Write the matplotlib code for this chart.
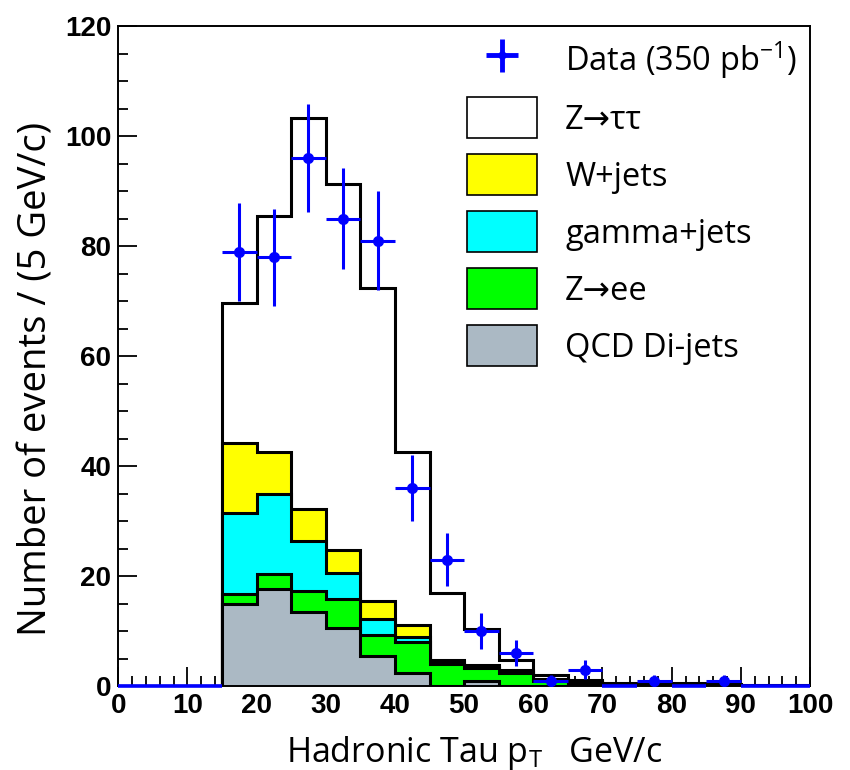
import numpy as np
import matplotlib
matplotlib.use('Agg')
import matplotlib.pyplot as plt
from matplotlib.patches import Patch
from matplotlib.ticker import MultipleLocator

plt.rcParams.update({
    'font.family': ['Open Sans', 'DejaVu Sans'],
    'mathtext.fontset': 'custom',
    'mathtext.rm': 'Open Sans',
    'mathtext.it': 'Open Sans',
})

# ---------- data (bins of 5 GeV/c, 0..100) ----------
edges = np.arange(0, 105, 5)
data = [0, 0, 0, 79, 78, 96, 85, 81, 36, 23, 10, 6, 1, 3, 0, 1, 0, 1, 0, 0]
data_err = [0, 0, 0, 8.9, 8.8, 9.8, 9.2, 9.0, 6.0, 4.8, 3.2, 2.4, 1.0, 1.7, 0, 1.0, 0, 1.0, 0, 0]

# individual contributions per bin
qcd   = [0, 0, 0, 14.9, 17.7, 13.4, 10.6, 5.4, 2.3, 0.0, 1.0, 0.1, 0.1, 0.0, 0, 0, 0, 0, 0, 0]
zee   = [0, 0, 0, 1.9, 2.6, 3.9, 5.3, 3.9, 5.7, 4.1, 2.2, 2.2, 0.9, 0.6, 0.2, 0.1, 0.1, 0.1, 0, 0]
gamma = [0, 0, 0, 14.7, 14.7, 9.1, 4.7, 2.9, 0.9, 0.3, 0.2, 0.3, 0.1, 0.1, 0.1, 0, 0, 0, 0, 0]
wjets = [0, 0, 0, 12.7, 7.5, 5.8, 4.1, 3.3, 2.2, 0.3, 0.4, 0.3, 0.2, 0.1, 0.1, 0.1, 0.1, 0.1, 0.1, 0.1]
ztt   = [0, 0, 0, 25.5, 43.0, 71.1, 66.6, 56.9, 31.5, 12.2, 6.5, 1.8, 0.7, 0.3, 0.2, 0.3, 0.3, 0.2, 0.1, 0.1]

components = [
    ('Z\u2192\u03c4\u03c4', ztt,   'white'),
    ('W+jets',              wjets, '#ffff00'),
    ('gamma+jets',          gamma, '#00ffff'),
    ('Z\u2192ee',           zee,   '#00ff00'),
    ('QCD Di-jets',         qcd,   '#abb9c4'),
]

fig = plt.figure(figsize=(8.5, 7.7), dpi=100)
ax = fig.add_axes([0.139, 0.109, 0.814, 0.857])

# stacked histogram: draw cumulative sums from largest to smallest
stack_order = components[::-1]  # bottom -> top
cum = np.zeros(len(edges) - 1)
cums = []
for name, vals, col in stack_order:
    cum = cum + np.array(vals)
    cums.append((name, cum.copy(), col))
for name, c, col in cums[::-1]:
    ax.stairs(c, edges, baseline=0, fill=True, facecolor=col,
              edgecolor='black', linewidth=2.2, zorder=2)

# data points
centers = 0.5 * (edges[:-1] + edges[1:])
d = np.array(data, dtype=float)
de = np.array(data_err)
nz = d > 0
ax.errorbar(centers[nz], d[nz], yerr=de[nz], xerr=2.5, fmt='o', color='#0000ff',
            ms=7, lw=2.2, capsize=0, zorder=4)
zb = ax.errorbar(centers[~nz], d[~nz], xerr=2.5, fmt='none', ecolor='#0000ff',
                 lw=2.6, capsize=0, zorder=4)
for art in zb.lines[2]:
    art.set_clip_on(False)

ax.set_xlim(0, 100)
ax.set_ylim(0, 120)
ax.xaxis.set_major_locator(MultipleLocator(10))
ax.xaxis.set_minor_locator(MultipleLocator(2))
ax.yaxis.set_major_locator(MultipleLocator(20))
ax.yaxis.set_minor_locator(MultipleLocator(5))
ax.tick_params(which='both', direction='in', top=False, right=False, width=1.3)
ax.tick_params(which='major', length=14)
ax.tick_params(which='minor', length=7)
ax.tick_params(axis='both', which='major', labelsize=20, pad=5)
for lbl in ax.get_xticklabels() + ax.get_yticklabels():
    lbl.set_fontfamily('Liberation Sans')
    lbl.set_fontweight('bold')
for sp in ax.spines.values():
    sp.set_linewidth(1.4)

ax.set_xlabel(r'Hadronic Tau p$_{\mathrm{T}}$   GeV/c', fontsize=24.5, labelpad=6)
ax.set_ylabel('Number of events / (5 GeV/c)', fontsize=27.5, labelpad=6)
ax.xaxis.set_label_coords(0.515, -0.072)
ax.yaxis.set_label_coords(-0.09, 0.465)

# legend
data_handle = ax.errorbar([], [], yerr=[], xerr=[], fmt='o', color='#0000ff',
                          ms=5, lw=3.5, capsize=0)
handles = [data_handle] + [Patch(facecolor=col, edgecolor='black', linewidth=1.2)
                           for _, _, col in components]
labels = ['Data (350 pb$^{-1}$)'] + [name for name, _, _ in components]
ax.legend(handles, labels, loc='upper left', bbox_to_anchor=(0.504, 0.98),
          frameon=False, fontsize=23.5, handlelength=2.16, handleheight=1.54,
          labelspacing=0.5, handletextpad=0.85, borderpad=0, borderaxespad=0)

fig.savefig('out.png', dpi=100)
